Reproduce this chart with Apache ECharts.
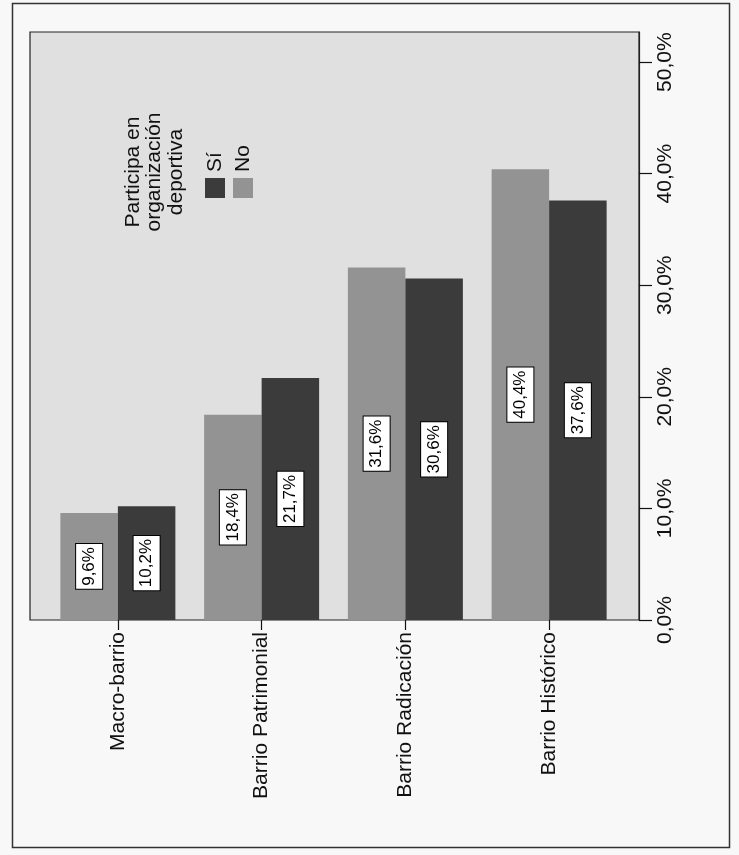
<!DOCTYPE html>
<html><head><meta charset="utf-8">
<script src="https://cdn.jsdelivr.net/npm/echarts@6/dist/echarts.min.js"></script>
<style>html,body{margin:0;padding:0;background:#f8f8f8}#c{width:739px;height:855px}</style>
</head><body><div id="c"></div>
<script>
const categories = ['Macro-barrio', 'Barrio Patrimonial', 'Barrio Radicación', 'Barrio Histórico'];
const noValues = [9.6, 18.4, 31.6, 40.4];
const siValues = [10.2, 21.7, 30.6, 37.6];
const tickValues = [0, 10, 20, 30, 40, 50];
const tickLabels = ['0,0%', '10,0%', '20,0%', '30,0%', '40,0%', '50,0%'];
const legendTitle = ['Participa en', 'organización', 'deportiva'];
const legendNames = ['Sí', 'No'];
const axisMax = 52.7;

const FONT = '"Liberation Sans", Arial, Helvetica, sans-serif';
const colorOf = { 'No': '#939393', 'Sí': '#3b3b3b' };
const fmt = v => v.toFixed(1).replace('.', ',') + '%';

const chart = echarts.init(document.getElementById('c'), null, { renderer: 'canvas' });

const barLabel = {
  show: true, position: 'inside', rotate: 90,
  formatter: p => fmt(p.value),
  fontFamily: FONT, fontSize: 17, lineHeight: 17, color: '#000',
  backgroundColor: '#ffffff', borderColor: '#000', borderWidth: 1,
  padding: [5, 3, 4, 3]
};

const legendChildren = [
  { type: 'text', x: 58, y: 2, style: { text: legendTitle.join('\n'), align: 'center', verticalAlign: 'top',
    fontFamily: FONT, fontSize: 21, lineHeight: 21.5, fill: '#111' } }
];
legendNames.forEach((n, i) => {
  const ly = 85 + i * 28;
  legendChildren.push({ type: 'rect', shape: { x: 32, y: ly, width: 20, height: 20 }, style: { fill: colorOf[n] } });
  legendChildren.push({ type: 'text', x: 58, y: ly + 10, style: { text: n, align: 'left', verticalAlign: 'middle',
    fontFamily: FONT, fontSize: 21, fill: '#111' } });
});

const option = {
  backgroundColor: '#f8f8f8',
  animation: false,
  textStyle: { fontFamily: FONT },
  grid: [
    { left: 30, right: 100, top: 32, bottom: 235, show: true, backgroundColor: '#e0e0e0', borderColor: '#222', borderWidth: 1.2 },
    { left: 46, right: 118, top: 32, bottom: 235 }
  ],
  xAxis: [
    { type: 'category', gridIndex: 0, data: categories, show: false },
    { type: 'category', gridIndex: 1, data: categories,
      axisLine: { show: false },
      axisTick: { show: true, alignWithLabel: true, length: 10, lineStyle: { color: '#111', width: 1.2 } },
      axisLabel: { rotate: 90, margin: 12, fontSize: 21, color: '#111', fontFamily: FONT, interval: 0 } }
  ],
  yAxis: [
    { type: 'value', gridIndex: 0, position: 'right', min: 0, max: axisMax, interval: 10,
      splitLine: { show: false },
      axisLine: { show: true, lineStyle: { color: '#222', width: 1.2 } },
      axisTick: { show: true, length: 13, customValues: tickValues, lineStyle: { color: '#111', width: 1.2 } },
      axisLabel: { rotate: 90, margin: 16, fontSize: 21, color: '#111', fontFamily: FONT, customValues: tickValues,
        formatter: v => { const i = tickValues.indexOf(v); return i >= 0 ? tickLabels[i] : ''; } } },
    { type: 'value', gridIndex: 1, min: 0, max: axisMax, show: false, splitLine: { show: false } }
  ],
  series: [
    { name: 'No', type: 'bar', xAxisIndex: 1, yAxisIndex: 1, data: noValues, barGap: '0%', barCategoryGap: '20%',
      itemStyle: { color: colorOf['No'] }, label: barLabel },
    { name: 'Sí', type: 'bar', xAxisIndex: 1, yAxisIndex: 1, data: siValues, barGap: '0%', barCategoryGap: '20%',
      itemStyle: { color: colorOf['Sí'] }, label: barLabel }
  ],
  graphic: [
    { type: 'rect', silent: true, z: 100, shape: { x: 12.5, y: 3.5, width: 717, height: 844 },
      style: { fill: 'none', stroke: '#333', lineWidth: 1.5 } },
    { type: 'group', x: 120, y: 230, rotation: Math.PI / 2, z: 100, children: legendChildren }
  ]
};
chart.setOption(option);
</script>
</body></html>
